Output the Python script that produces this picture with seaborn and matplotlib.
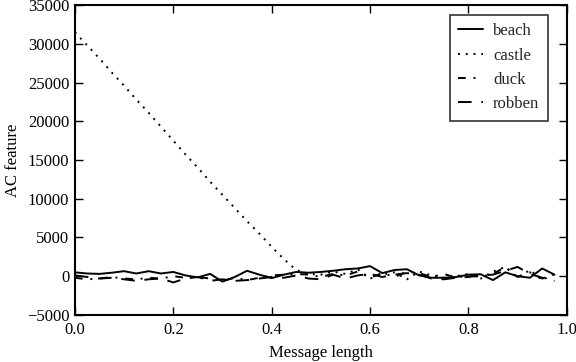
import numpy as np
import pandas as pd
import matplotlib
matplotlib.use("Agg")
import matplotlib.pyplot as plt
import seaborn as sns

x_vals = [round(i * 0.025, 3) for i in range(40)]

beach = [500, 350, 300, 450, 650, 350, 650, 350, 550, 100,
         -150, 300, -700, -100, 700, 200, -250, 200, 550, 450,
         550, 700, 900, 1000, 1300, 400, 800, 900, 100, -200,
         -200, -100, 200, 250, -500, 500, 0, -200, 1000, 200]

castle = [31500, 29800, 28100, 26300, 24600, 22800, 21100, 19300, 17500, 15700,
          14000, 12200, 10500, 8800, 7100, 5500, 3800, 2200, 800, 300,
          200, 600, 300, 900, -300, 200, 500, -400, 600, 100,
          -200, 0, 300, -300, 600, 1200, -200, 800, -500, 300]

duck = [-200, -400, -300, -100, -300, -400, -200, -300, 0, -200,
        -100, -300, -600, -200, -500, -200, 100, 200, 300, 200,
        -100, 300, 100, 600, -200, 400, -100, 600, 400, -100,
        300, -200, 100, -100, 300, 1200, -100, 500, -300, 300]

robben = [100, -100, -300, -200, -400, -600, -400, -300, -800, -300,
          -100, -600, -400, -600, -500, -300, -100, -200, 100, -300,
          -400, 200, -300, 100, 300, -100, 200, 400, 200, -300,
          -400, -200, -100, 100, 200, 700, 1200, 300, -200, -600]

series_names = ["beach", "castle", "duck", "robben"]
series_vals = [beach, castle, duck, robben]

df = pd.DataFrame({
    "x": x_vals * 4,
    "y": sum(series_vals, []),
    "series": sum([[n] * len(x_vals) for n in series_names], []),
})

sns.set_theme(style="ticks")
plt.rcParams["font.family"] = ["Liberation Serif", "DejaVu Serif"]

fig = plt.figure(figsize=(5.76, 3.62), dpi=100)
ax = fig.add_axes([0.130, 0.130, 0.854, 0.856])

dashes = {"beach": "", "castle": (1, 3), "duck": (4, 4, 1, 4), "robben": (7, 5)}
sns.lineplot(data=df, x="x", y="y", hue="series", style="series",
             palette=["black"] * 4, dashes=dashes, linewidth=1.4, ax=ax)

ax.set_xlim(0, 1)
ax.set_ylim(-5000, 35000)
ax.set_xticks([0, 0.2, 0.4, 0.6, 0.8, 1.0])
ax.set_xticklabels(["0.0", "0.2", "0.4", "0.6", "0.8", "1.0"])
ax.set_yticks(range(-5000, 35001, 5000))
ax.set_yticklabels(["\u22125000"] + [str(v) for v in range(0, 35001, 5000)])
ax.tick_params(direction="in", top=True, right=True, length=6, width=1,
               labelsize=12, colors="black")
ax.tick_params(axis="x", pad=5)
ax.tick_params(axis="y", pad=4)
for s in ax.spines.values():
    s.set_linewidth(1.5)
    s.set_color("black")
ax.set_xlabel("Message length", fontsize=12, color="black", labelpad=5)
ax.set_ylabel("AC feature", fontsize=12, color="black")

leg = ax.legend(loc="upper right", fontsize=12, frameon=True, fancybox=False,
                edgecolor="black", handlelength=1.5, handletextpad=0.6,
                borderpad=0.5, labelspacing=0.5, borderaxespad=0,
                bbox_to_anchor=(0.961, 0.968))
leg.get_frame().set_linewidth(1.2)

fig.savefig("out.png", dpi=100)
